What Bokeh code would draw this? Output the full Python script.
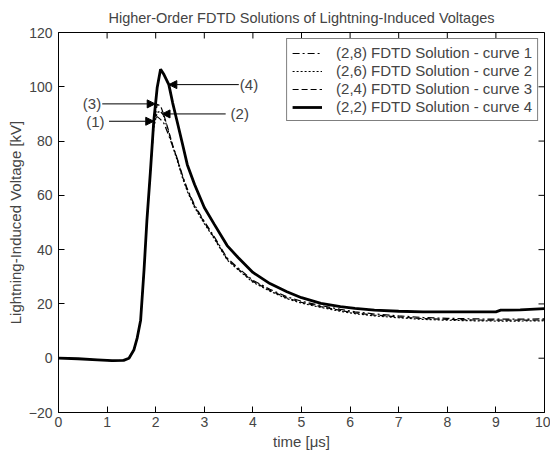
import math
from bokeh.plotting import figure
from bokeh.models import (ColumnDataSource, Range1d, Legend, LegendItem,
                          Arrow, NormalHead, Label, FixedTicker)
from bokeh.embed import file_html
from bokeh.resources import INLINE

# ---- data ----
time_us = [0, 0.4, 0.8, 1.1, 1.34, 1.45, 1.55, 1.62, 1.69, 1.76, 1.82, 1.89, 1.96, 2.03,
           2.10, 2.17, 2.27, 2.35, 2.44, 2.55, 2.65, 2.8, 3.0, 3.2, 3.47, 3.7, 4.0, 4.35,
           4.7, 5.0, 5.4, 5.8, 6.1, 6.5, 7.0, 7.5, 8.0, 8.5, 9.0, 9.1, 9.5, 10.0]

curve4 = [0, -0.2, -0.6, -0.9, -0.8, 0, 3, 7.5, 14, 32.5, 51, 68.5, 87.3, 99.6,
          106.5, 104.5, 100.8, 94, 87.3, 79, 71.3, 64, 55.5, 49.5, 41.5, 37, 31.6, 27.5,
          24.5, 22.3, 20.2, 19.0, 18.4, 17.7, 17.3, 17.1, 17.1, 17.1, 17.1, 17.7, 17.8, 18.3]

curve3 = [0, -0.2, -0.6, -0.9, -0.8, 0, 3, 7.5, 14, 32.5, 51, 68.5, 86, 93.5,
          93, 89.5, 83.5, 78.5, 73.5, 67, 62, 56, 50, 44.5, 36.5, 32.8, 28.3, 25,
          22.2, 20.6, 19.0, 17.6, 16.7, 15.9, 15.2, 14.6, 14.3, 14.1, 14.0, 14.0, 14.0, 14.1]

curve2 = [0, -0.2, -0.6, -0.9, -0.8, 0, 3, 7.5, 14, 32.5, 51, 68.5, 85, 90.5,
          91, 89, 83, 78, 73, 66.5, 61.5, 55.5, 49.6, 44.2, 36.2, 32.5, 28.0, 24.7,
          21.9, 20.3, 18.7, 17.3, 16.4, 15.6, 14.9, 14.3, 14.0, 13.8, 13.7, 13.7, 13.7, 13.8]

curve1 = [0, -0.2, -0.6, -0.9, -0.8, 0, 3, 7.5, 14, 32.5, 51, 68.5, 87.7, 89,
          88, 86.5, 82, 78, 73.8, 67.4, 62.4, 56.4, 50.4, 44.9, 36.9, 33.2, 28.7, 25.4,
          22.6, 21.0, 19.4, 18.0, 17.1, 16.3, 15.6, 15.0, 14.7, 14.5, 14.4, 14.4, 14.4, 14.5]

series_labels = ["(2,8) FDTD Solution - curve 1", "(2,6) FDTD Solution - curve 2",
                 "(2,4) FDTD Solution - curve 3", "(2,2) FDTD Solution - curve 4"]

title_text = "Higher-Order FDTD Solutions of Lightning-Induced Voltages"

x_ticks = [0, 1, 2, 3, 4, 5, 6, 7, 8, 9, 10]
y_ticks = [-20, 0, 20, 40, 60, 80, 100, 120]

# annotation callouts: (text, text_x, text_y, arrow_start_x, arrow_end_x)
callouts = [("(3)", 0.69, 93.7, 0.90, 1.99),
            ("(1)", 0.76, 87.3, 1.04, 1.96),
            ("(2)", 3.73, 90.0, 3.44, 2.13),
            ("(4)", 3.92, 100.8, 3.71, 2.27)]

FONT = "Liberation Sans"
X0, X1 = 0, 10
Y0, Y1 = -20, 120

p = figure(width=550, height=453, output_backend="svg", toolbar_location=None,
           x_range=Range1d(X0, X1), y_range=Range1d(Y0, Y1),
           min_border_left=58, min_border_right=6, min_border_top=32, min_border_bottom=41)

p.title.text = title_text
p.title.align = "center"
p.title.text_font = FONT
p.title.text_font_style = "normal"
p.title.text_font_size = "14.5px"
p.title.standoff = 14

p.xgrid.visible = False
p.ygrid.visible = False
p.outline_line_color = "black"
p.outline_line_width = 1
p.background_fill_color = "white"

src = ColumnDataSource(dict(t=time_us, c1=curve1, c2=curve2, c3=curve3, c4=curve4))
r1 = p.line("t", "c1", source=src, line_color="black", line_width=1.2, line_dash="7 3 2 3")
r2 = p.line("t", "c2", source=src, line_color="black", line_width=1.2, line_dash="2 2")
r3 = p.line("t", "c3", source=src, line_color="black", line_width=1.2, line_dash="6 3")
r4 = p.line("t", "c4", source=src, line_color="black", line_width=2.8)

for ax in [p.xaxis[0], p.yaxis[0]]:
    ax.major_tick_in = 6
    ax.major_tick_out = 0
    ax.minor_tick_in = 0
    ax.minor_tick_out = 0
    ax.axis_line_color = "black"
    ax.major_label_text_font = FONT
    ax.major_label_text_font_size = "14px"
    ax.axis_label_text_font = FONT
    ax.axis_label_text_font_size = "15px"
    ax.axis_label_text_font_style = "normal"

p.xaxis[0].ticker = FixedTicker(ticks=x_ticks)
p.yaxis[0].ticker = FixedTicker(ticks=y_ticks)
p.xaxis[0].axis_label = "time [\u03bcs]"
p.yaxis[0].axis_label = "Lightning-Induced Voltage [kV]"
p.xaxis[0].major_label_standoff = 4
p.xaxis[0].axis_label_standoff = 3
p.yaxis[0].major_label_standoff = 6
p.yaxis[0].axis_label_standoff = 2

# inward ticks on the top and right edges (half of each dash is clipped by the frame)
p.scatter(x=x_ticks, y=[Y1] * len(x_ticks), marker="dash", size=12, angle=math.pi / 2,
          line_color="black", line_width=1)
p.scatter(x=[X1] * len(y_ticks), y=y_ticks, marker="dash", size=12,
          line_color="black", line_width=1)

legend = Legend(items=[LegendItem(label=series_labels[0], renderers=[r1]),
                       LegendItem(label=series_labels[1], renderers=[r2]),
                       LegendItem(label=series_labels[2], renderers=[r3]),
                       LegendItem(label=series_labels[3], renderers=[r4])],
                location="top_right", margin=6, padding=5, spacing=1,
                glyph_width=30, glyph_height=16, label_height=16, label_standoff=14,
                label_text_font=FONT, label_text_font_size="15px",
                label_text_line_height=1.0,
                border_line_color="black", border_line_width=1,
                background_fill_color="white", background_fill_alpha=1)
p.add_layout(legend)

for txt, tx, ty, x0, x1 in callouts:
    p.add_layout(Arrow(end=NormalHead(size=8, fill_color="black", line_color="black"),
                       x_start=x0, y_start=ty, x_end=x1, y_end=ty,
                       line_color="black", line_width=1))
    p.add_layout(Label(x=tx, y=ty, text=txt, text_font=FONT, text_font_size="15px",
                       text_align="center", text_baseline="middle"))

open("out.html", "w").write(file_html(p, INLINE))
